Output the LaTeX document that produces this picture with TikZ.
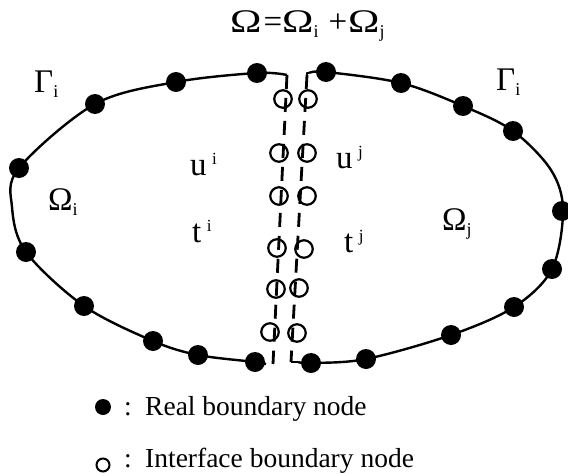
\documentclass[tikz,border=0pt]{standalone}
\usepackage{fontspec}
\setmainfont{Liberation Serif}
\newcommand\lsub[1]{\raisebox{-5pt}{\fontsize{18}{18}\selectfont #1}}
\newcommand\lsup[1]{\raisebox{11pt}{\fontsize{17}{17}\selectfont #1}}
\newcommand\wOm{\scalebox{1.28}[1]{Ω}}
\begin{document}
\begin{tikzpicture}[x=1pt,y=-1pt,
  realdot/.style={circle,fill=black,inner sep=0pt,minimum size=20pt},
  ifcirc/.style={circle,draw=black,line width=2.2pt,inner sep=0pt,minimum size=17.5pt},
  bound/.style={line width=2.4pt,line join=round},
  iface/.style={line width=2.8pt,dash pattern=on 14pt off 9pt},
  lbl/.style={anchor=base west,inner sep=0pt,font=\fontsize{33}{33}\selectfont},
  leg/.style={anchor=base west,inner sep=0pt,font=\fontsize{27.5}{30}\selectfont}]
\useasboundingbox (0,0) rectangle (568,474);
% interface end points
\coordinate (la) at (287,75);
\coordinate (lb) at (273,364);
\coordinate (ra) at (307,75);
\coordinate (rb) at (291,362);
% boundary curves
\draw[bound] plot[smooth,tension=0.55] coordinates {(287,75) (257,73) (176,82) (95,104) (19,168) (12,207) (26,252) (84,306) (153,341) (198,355) (255,362) (266,364)};
\draw[bound] plot[smooth,tension=0.55] coordinates {(298,362) (311,363) (366,359) (451,335) (514,307) (552,269) (563,210) (551,170) (513,131) (463,106) (401,83) (326,72) (309,73)};
\draw[bound] (rb) -- (298,362);
\draw[bound] (ra) -- (307,73) -- (309,73);
% interface dashed lines
\draw[iface] (la) -- (lb);
\draw[iface] (ra) -- (rb);
% real boundary nodes
\node[realdot] (r1) at (257,73) {};
\node[realdot] (r2) at (176,82) {};
\node[realdot] (r3) at (95,104) {};
\node[realdot] (r4) at (19,168) {};
\node[realdot] (r5) at (26,252) {};
\node[realdot] (r6) at (84,306) {};
\node[realdot] (r7) at (153,341) {};
\node[realdot] (r8) at (198,355) {};
\node[realdot] (r9) at (255,362) {};
\node[realdot] (s1) at (326,72) {};
\node[realdot] (s2) at (401,83) {};
\node[realdot] (s3) at (463,106) {};
\node[realdot] (s4) at (513,131) {};
\node[realdot] (s5) at (562,211) {};
\node[realdot] (s6) at (552,269) {};
\node[realdot] (s7) at (514,307) {};
\node[realdot] (s8) at (451,335) {};
\node[realdot] (s9) at (366,359) {};
\node[realdot] (s10) at (311,363) {};
% interface nodes
\node[ifcirc] (c1) at (283,99) {};
\node[ifcirc] (c2) at (279,153) {};
\node[ifcirc] (c3) at (279,196) {};
\node[ifcirc] (c4) at (277,248) {};
\node[ifcirc] (c5) at (276,289) {};
\node[ifcirc] (c6) at (270,332) {};
\node[ifcirc] (d1) at (308,99) {};
\node[ifcirc] (d2) at (307,153) {};
\node[ifcirc] (d3) at (307,196) {};
\node[ifcirc] (d4) at (304,249) {};
\node[ifcirc] (d5) at (299,288) {};
\node[ifcirc] (d6) at (297,333) {};
% labels
\node[lbl] (title) at (230,32) {\wOm\hspace{2pt}=\wOm\lsub{i}\hspace{10pt}+\hspace{1pt}\wOm\lsub{j}};
\node[lbl] (gl) at (34,92) {Γ\lsub{i}};
\node[lbl] (gr) at (496,90) {Γ\lsub{i}};
\node[lbl] (oi) at (48,210) {Ω\lsub{i}};
\node[lbl] (oj) at (442,230) {Ω\lsub{j}};
\node[lbl] (ui) at (190,175) {u\,\lsup{i}};
\node[lbl] (ti) at (192,242) {t\,\lsup{i}};
\node[lbl] (uj) at (336,168) {u\,\lsup{j}};
\node[lbl] (tj) at (344,252) {t\,\lsup{j}};
% legend
\node[realdot,minimum size=16pt] (lg1) at (103,407) {};
\node[ifcirc,minimum size=13pt,line width=2pt] (lg2) at (103,465) {};
\node[leg] (lc1) at (124,415) {:};
\node[leg] (lc2) at (124,467) {:};
\node[leg] (lt1) at (145,415) {Real boundary node};
\node[leg] (lt2) at (145,467) {Interface boundary node};
\end{tikzpicture}
\end{document}
